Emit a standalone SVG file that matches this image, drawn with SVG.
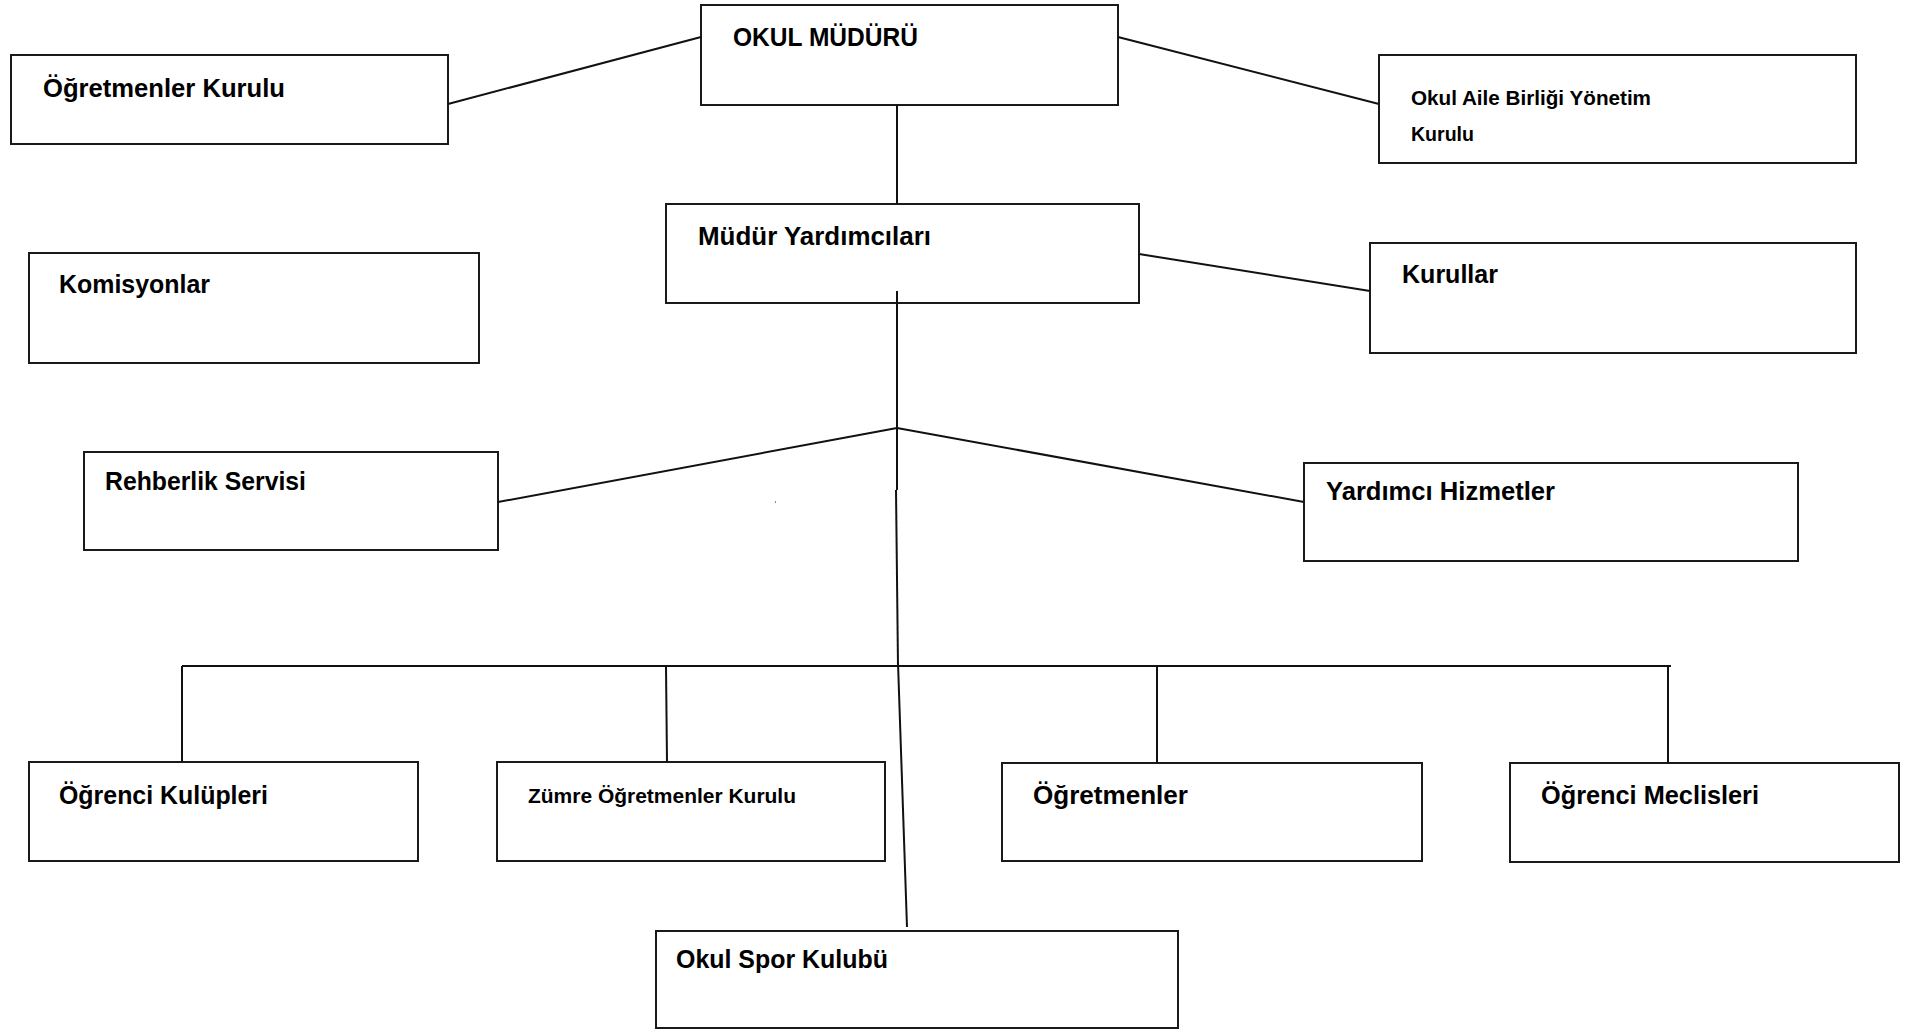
<svg xmlns="http://www.w3.org/2000/svg" width="1919" height="1030" viewBox="0 0 1919 1030">
<style>
.box{fill:#fff;stroke:#1a1a1a;stroke-width:2}
.lbl{font-family:"Liberation Sans",Arial,sans-serif;font-weight:bold;font-size:26px;fill:#000}
.sm{font-size:20px}
.con line{stroke:#111;stroke-width:2;fill:none}
</style>
<rect width="1919" height="1030" fill="#fff"/>
<g id="okul-muduru"><rect class="box" x="701" y="5" width="417" height="100"/><text class="lbl" x="733" y="46" textLength="185" lengthAdjust="spacingAndGlyphs">OKUL MÜDÜRÜ</text></g>
<g id="ogretmenler-kurulu"><rect class="box" x="11" y="55" width="437" height="89"/><text class="lbl" x="43" y="97" textLength="242" lengthAdjust="spacingAndGlyphs">Öğretmenler Kurulu</text></g>
<g id="okul-aile-birligi"><rect class="box" x="1379" y="55" width="477" height="108"/><text class="lbl sm" x="1411" y="105" textLength="240" lengthAdjust="spacingAndGlyphs">Okul Aile Birliği Yönetim</text><text class="lbl sm" x="1411" y="141" textLength="63" lengthAdjust="spacingAndGlyphs">Kurulu</text></g>
<g id="mudur-yardimcilari"><rect class="box" x="666" y="204" width="473" height="99"/><text class="lbl" x="698" y="245" textLength="233" lengthAdjust="spacingAndGlyphs">Müdür Yardımcıları</text></g>
<g id="kurullar"><rect class="box" x="1370" y="243" width="486" height="110"/><text class="lbl" x="1402" y="283" textLength="96" lengthAdjust="spacingAndGlyphs">Kurullar</text></g>
<g id="komisyonlar"><rect class="box" x="29" y="253" width="450" height="110"/><text class="lbl" x="59" y="293" textLength="151" lengthAdjust="spacingAndGlyphs">Komisyonlar</text></g>
<g id="rehberlik-servisi"><rect class="box" x="84" y="452" width="414" height="98"/><text class="lbl" x="105" y="490" textLength="201" lengthAdjust="spacingAndGlyphs">Rehberlik Servisi</text></g>
<g id="yardimci-hizmetler"><rect class="box" x="1304" y="463" width="494" height="98"/><text class="lbl" x="1326" y="500" textLength="229" lengthAdjust="spacingAndGlyphs">Yardımcı Hizmetler</text></g>
<g id="ogrenci-kulupleri"><rect class="box" x="29" y="762" width="389" height="99"/><text class="lbl" x="59" y="804" textLength="209" lengthAdjust="spacingAndGlyphs">Öğrenci Kulüpleri</text></g>
<g id="zumre"><rect class="box" x="497" y="762" width="388" height="99"/><text class="lbl sm" x="528" y="803" textLength="268" lengthAdjust="spacingAndGlyphs">Zümre Öğretmenler Kurulu</text></g>
<g id="ogretmenler"><rect class="box" x="1002" y="763" width="420" height="98"/><text class="lbl" x="1033" y="804" textLength="155" lengthAdjust="spacingAndGlyphs">Öğretmenler</text></g>
<g id="ogrenci-meclisleri"><rect class="box" x="1510" y="763" width="389" height="99"/><text class="lbl" x="1541" y="804" textLength="218" lengthAdjust="spacingAndGlyphs">Öğrenci Meclisleri</text></g>
<g id="okul-spor-kulubu"><rect class="box" x="656" y="931" width="522" height="97"/><text class="lbl" x="676" y="968" textLength="212" lengthAdjust="spacingAndGlyphs">Okul Spor Kulubü</text></g>
<g id="connectors" class="con">
<line x1="448" y1="104" x2="701" y2="37"/>
<line x1="1118" y1="37" x2="1379" y2="104"/>
<line x1="897" y1="105" x2="897" y2="204"/>
<line x1="1139" y1="254" x2="1370" y2="291"/>
<line x1="897" y1="291" x2="897" y2="490"/>
<line x1="897" y1="428" x2="498" y2="502"/>
<line x1="897" y1="428" x2="1304" y2="502"/>
<line x1="896" y1="490" x2="898" y2="666"/>
<line x1="898" y1="663" x2="907" y2="927"/>
<line x1="182" y1="666" x2="1671" y2="666"/>
<line x1="182" y1="666" x2="182" y2="762"/>
<line x1="666" y1="666" x2="667" y2="762"/>
<line x1="1157" y1="666" x2="1157" y2="763"/>
<line x1="1668" y1="666" x2="1668" y2="763"/>
</g>
<rect x="775" y="501" width="1" height="2" fill="#888"/>
</svg>
